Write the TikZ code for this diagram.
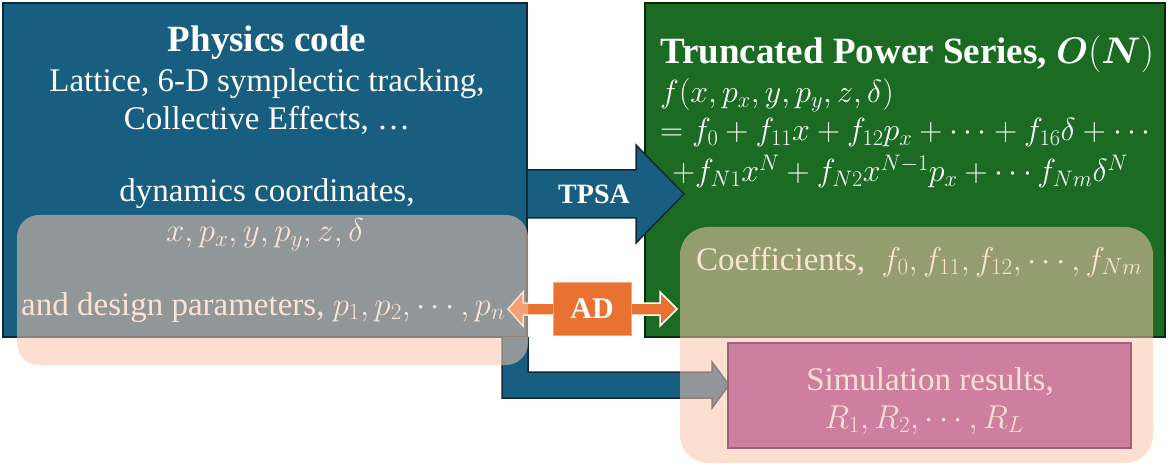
\documentclass[tikz,border=0pt]{standalone}
\usepackage{fix-cm}
\usepackage{bm}
\usepackage{fontspec}
\setmainfont{Liberation Serif}
\definecolor{codeblue}{RGB}{23,94,128}
\definecolor{codebluedark}{RGB}{14,42,58}
\definecolor{tpsgreen}{RGB}{27,107,35}
\definecolor{tpsgreendark}{RGB}{12,40,14}
\definecolor{veilpeach}{RGB}{247,199,172}
\definecolor{palepeach}{RGB}{251,226,213}
\definecolor{adorange}{RGB}{233,113,50}
\definecolor{simpink}{RGB}{206,126,158}
\definecolor{simpinkdark}{RGB}{160,98,122}

\begin{document}
\begin{tikzpicture}[x=1pt,y=-1pt,
    bluebox/.style={fill=codeblue,draw=codebluedark,line width=1.5pt,inner sep=0pt},
    greenbox/.style={fill=tpsgreen,draw=tpsgreendark,line width=1.5pt,inner sep=0pt},
    veil/.style={fill=veilpeach,fill opacity=0.55,inner sep=0pt},
    bluearrow/.style={fill=codeblue,draw=codebluedark,line width=1.5pt,line join=miter},
    adarrow/.style={fill=adorange,draw=white,line width=1.5pt},
    head/.style={font=\fontsize{37}{44}\selectfont\bfseries,text=white,inner sep=0pt},
    body/.style={font=\fontsize{33}{40}\selectfont,text=white,inner sep=0pt},
    series/.style={font=\fontsize{32}{38}\selectfont,text=white,inner sep=0pt},
    pale/.style={font=\fontsize{33}{40}\selectfont,text=palepeach,inner sep=0pt}]
    \useasboundingbox (0,0) rectangle (1174,470);

    \node[bluebox,minimum width=524pt,minimum height=334pt] (phys) at (265,170) {};
    \node[greenbox,minimum width=520pt,minimum height=334pt] (tps) at (905,170) {};

    \draw[bluearrow] (phys.east |- 0,170) -- (636,170) -- (636,145) -- (684,194)
        -- (636,243) -- (636,218) -- (phys.east |- 0,218);
    \draw[bluearrow] (502,337) -- (502,398) -- (712,398) -- (712,408) -- (729,385)
        -- (712,362) -- (712,372) -- (528,372) -- (528,337);
    \draw[adarrow] (508,309) -- (523,292) -- (523,303) -- (660,303) -- (660,292) -- (677,309)
        -- (660,326) -- (660,315) -- (523,315) -- (523,326) -- cycle;

    \node[veil,rounded corners=22pt,minimum width=511pt,minimum height=150pt] (dyn) at (272.5,290) {};
    \node[veil,rounded corners=28pt,minimum width=473pt,minimum height=236pt] (coefs) at (916.5,345) {};
    \node[fill=simpink,draw=simpinkdark,line width=1.5pt,minimum width=403pt,minimum height=105pt] (sim) at (929.5,395.5) {};
    \node[fill=adorange,draw=adorange!60!white,line width=0.8pt,minimum width=78pt,minimum height=53pt,
        font=\fontsize{30}{36}\selectfont\bfseries,text=white] (ad) at (592,308.5) {AD};

    \node[head,anchor=base] (physname) at (267,52) {Physics code};
    \node[body,anchor=base] (physline1) at (267,92) {Lattice, 6-D symplectic tracking,};
    \node[body,anchor=base] (physline2) at (267,130) {Collective Effects, …};
    \node[body,anchor=base] (dynname) at (267,202) {dynamics coordinates,};
    \node[pale,anchor=base] (dynvars) at (265,242) {$x, p_x, y, p_y, z, \delta$};
    \node[pale,anchor=base west] (design) at (21,315) {and design parameters, $p_1, p_2, \cdots, p_n$};
    \node[font=\fontsize{28}{34}\selectfont\bfseries,text=white] (tpsa) at (594,194) {TPSA};

    \node[head,anchor=base west] (tpsname) at (660,64) {Truncated Power Series, $\bm{O}(\bm{N})$};
    \node[series,anchor=base west] (fline) at (660,103) {$f\bigl(x, p_x, y, p_y, z, \delta\bigr)$};
    \node[series,anchor=base west] (series1) at (660,141) {$= f_0 + f_{11}x + f_{12}p_x + \cdots + f_{16}\delta + \cdots$};
    \node[series,anchor=base west] (series2) at (672,182) {$+f_{N1}x^N + f_{N2}x^{N-1}p_x + \cdots f_{Nm}\delta^N$};
    \node[pale,anchor=base west] (coefline) at (696,270) {Coefficients,\ \ $f_0, f_{11}, f_{12}, \cdots, f_{Nm}$};
    \node[pale,anchor=base] (simline1) at (930,390) {Simulation results,};
    \node[pale,anchor=base] (simline2) at (924,428) {$R_1, R_2, \cdots, R_L$};
\end{tikzpicture}
\end{document}
